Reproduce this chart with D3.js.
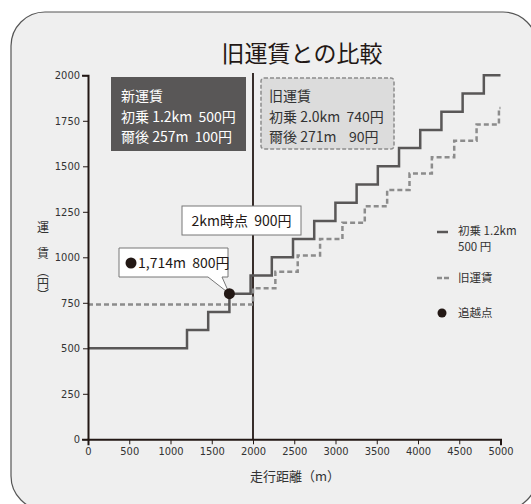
<!DOCTYPE html>
<html>
<head>
<meta charset="utf-8">
<script src="https://cdn.jsdelivr.net/npm/d3@7"></script>
<style>
  html, body { margin: 0; padding: 0; background: #fff; }
  svg { display: block; }
  text { font-family: "Noto Sans CJK JP", "Noto Sans", sans-serif; fill: #231815; }
  .tick text { font-family: "Liberation Sans Narrow", "DejaVu Sans Condensed", "Noto Sans", sans-serif; font-size: 11px; fill: #333; }
</style>
</head>
<body>
<div id="chart"></div>
<script>
(function() {
    'use strict';

    // new fare: first 1.2km 500 yen, then +100 yen every 257m
    var newDist = [0, 1200, 1457, 1714, 1971, 2228, 2485, 2742, 2999, 3256, 3513, 3770, 4027, 4284, 4541, 4798, 5000];
    var newFare = [500, 600, 700, 800, 900, 1000, 1100, 1200, 1300, 1400, 1500, 1600, 1700, 1800, 1900, 2000, 2000];

    // old fare: first 2.0km 740 yen, then +90 yen every 271m
    var oldDist = [0, 2000, 2271, 2542, 2813, 3084, 3355, 3626, 3897, 4168, 4439, 4710, 4981, 5000];
    var oldFare = [740, 830, 920, 1010, 1100, 1190, 1280, 1370, 1460, 1550, 1640, 1730, 1820, 1820];

    var xTicks = [0, 500, 1000, 1500, 2000, 2500, 3000, 3500, 4000, 4500, 5000];
    var yTicks = [0, 250, 500, 750, 1000, 1250, 1500, 1750, 2000];

    var overtake = {dist: 1714, fare: 800};
    var markerDist = 2000;

    var width = 531, height = 504;
    var dark = "#231815";
    var lineGray = "#595757";
    var dashGray = "#8c8c8c";

    var svg = d3.select("#chart").append("svg")
        .attr("width", width)
        .attr("height", height);

    // panel frame
    svg.append("rect")
        .attr("x", 11).attr("y", 12)
        .attr("width", 526).attr("height", 498)
        .attr("rx", 34).attr("ry", 34)
        .attr("fill", "#efefef")
        .attr("stroke", "#555")
        .attr("stroke-width", 1.2);

    svg.append("text")
        .attr("x", 302).attr("y", 62)
        .attr("text-anchor", "middle")
        .style("font-size", "23px")
        .text("旧運賃との比較");

    var x = d3.scaleLinear().domain([0, 5000]).range([88, 500.5]);
    var y = d3.scaleLinear().domain([0, 2000]).range([439.3, 75.3]);

    var newData = newDist.map((d, i) => ({dist: d, fare: newFare[i]}));
    var oldData = oldDist.map((d, i) => ({dist: d, fare: oldFare[i]}));

    var line = d3.line()
        .x(d => x(d.dist))
        .y(d => y(d.fare))
        .curve(d3.curveStepAfter);

    // 2km marker
    svg.append("line")
        .attr("x1", x(markerDist)).attr("x2", x(markerDist))
        .attr("y1", 73).attr("y2", y(0))
        .attr("stroke", dark)
        .attr("stroke-width", 1.8);

    svg.append("path")
        .datum(oldData)
        .attr("d", line)
        .attr("fill", "none")
        .attr("stroke", dashGray)
        .attr("stroke-width", 2.5)
        .attr("stroke-dasharray", "5,3");

    svg.append("path")
        .datum(newData)
        .attr("d", line)
        .attr("fill", "none")
        .attr("stroke", lineGray)
        .attr("stroke-width", 2.5);

    // axes
    var yAxis = svg.append("g")
        .attr("transform", "translate(" + x(0) + ",0)")
        .call(d3.axisLeft(y).tickValues(yTicks).tickFormat(d3.format("d"))
            .tickSize(5).tickSizeOuter(6).tickPadding(3));

    var xAxis = svg.append("g")
        .attr("transform", "translate(0," + y(0) + ")")
        .call(d3.axisBottom(x).tickValues(xTicks).tickFormat(d3.format("d"))
            .tickSize(5).tickSizeOuter(6).tickPadding(3));

    [xAxis, yAxis].forEach(function(g) {
        g.select(".domain").attr("stroke", dark).attr("stroke-width", 2);
        g.selectAll(".tick line").attr("stroke", dark).attr("stroke-width", 1);
    });

    svg.append("text")
        .attr("x", 295).attr("y", 481)
        .attr("text-anchor", "middle")
        .style("font-size", "13px")
        .style("fill", "#333")
        .text("走行距離（m）");

    // y title, written vertically
    var yTitle = svg.append("g").style("font-size", "12px");
    yTitle.append("text").attr("x", 43).attr("y", 232)
        .attr("text-anchor", "middle").style("fill", "#333").text("運");
    yTitle.append("text").attr("x", 43).attr("y", 258)
        .attr("text-anchor", "middle").style("fill", "#333").text("賃");
    yTitle.append("text").attr("x", 43).attr("y", 265)
        .style("writing-mode", "vertical-rl")
        .style("fill", "#333").text("（円）");

    // new fare box
    svg.append("rect")
        .attr("x", 111).attr("y", 77)
        .attr("width", 135).attr("height", 74)
        .attr("fill", "#595757");

    var newLines = ["新運賃", "初乗 1.2km  500円", "爾後 257m  100円"];
    svg.append("g").selectAll("text")
        .data(newLines)
        .enter().append("text")
        .attr("x", 121)
        .attr("y", (d, i) => 101 + i * 20.5)
        .style("font-size", "14px")
        .style("fill", "#fff")
        .style("white-space", "pre")
        .text(d => d);

    // old fare box
    svg.append("rect")
        .attr("x", 261).attr("y", 78)
        .attr("width", 133).attr("height", 71)
        .attr("rx", 3)
        .attr("fill", "#dcdcdc")
        .attr("stroke", "#8c8c8c")
        .attr("stroke-width", 1.5)
        .attr("stroke-dasharray", "4,2");

    var oldLines = ["旧運賃", "初乗 2.0km  740円", "爾後 271m    90円"];
    svg.append("g").selectAll("text")
        .data(oldLines)
        .enter().append("text")
        .attr("x", 269)
        .attr("y", (d, i) => 101 + i * 20.5)
        .style("font-size", "14px")
        .style("fill", "#333")
        .style("white-space", "pre")
        .text(d => d);

    // 2km label
    svg.append("rect")
        .attr("x", 182).attr("y", 206)
        .attr("width", 119).attr("height", 29)
        .attr("fill", "#fff")
        .attr("stroke", "#777")
        .attr("stroke-width", 1);
    svg.append("text")
        .attr("x", 241.5).attr("y", 226)
        .attr("text-anchor", "middle")
        .style("font-size", "14px")
        .style("white-space", "pre")
        .text("2km時点  900円");

    // overtake callout
    var px = x(overtake.dist), py = y(overtake.fare);
    var bx0 = 119, bx1 = 228, by0 = 248, by1 = 277;
    svg.append("path")
        .attr("d", "M" + bx0 + "," + by0 + "H" + bx1 + "V" + by1 + "H222L" + px + "," + py + "L208," + by1 + "H" + bx0 + "Z")
        .attr("fill", "#fff")
        .attr("stroke", "#777")
        .attr("stroke-width", 1);
    svg.append("circle")
        .attr("cx", 131).attr("cy", 263)
        .attr("r", 5.5)
        .attr("fill", dark);
    svg.append("text")
        .attr("x", 138).attr("y", 268)
        .style("font-size", "14px")
        .style("white-space", "pre")
        .text("1,714m  800円");

    svg.append("circle")
        .attr("cx", px).attr("cy", py)
        .attr("r", 5.5)
        .attr("fill", dark);

    // legend
    var legend = svg.append("g").style("font-size", "11.5px");
    legend.append("line")
        .attr("x1", 437).attr("x2", 448).attr("y1", 232).attr("y2", 232)
        .attr("stroke", lineGray).attr("stroke-width", 2.5);
    legend.append("text").attr("x", 458).attr("y", 235).style("fill", "#333").text("初乗 1.2km");
    legend.append("text").attr("x", 458).attr("y", 251).style("fill", "#333").text("500 円");
    legend.append("line")
        .attr("x1", 437).attr("x2", 449).attr("y1", 278).attr("y2", 278)
        .attr("stroke", dashGray).attr("stroke-width", 2.5)
        .attr("stroke-dasharray", "5,2");
    legend.append("text").attr("x", 458).attr("y", 282).style("fill", "#333").text("旧運賃");
    legend.append("circle")
        .attr("cx", 442).attr("cy", 313).attr("r", 4.5).attr("fill", dark);
    legend.append("text").attr("x", 458).attr("y", 317).style("fill", "#333").text("追越点");
})();
</script>
</body>
</html>
